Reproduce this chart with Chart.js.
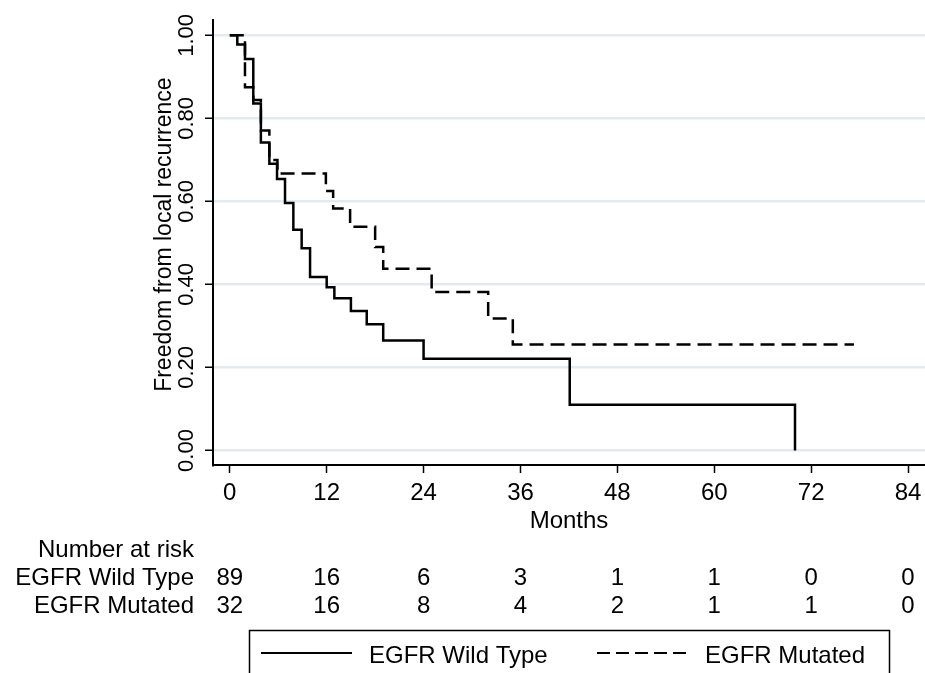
<!DOCTYPE html>
<html>
<head>
<meta charset="utf-8">
<script src="https://cdn.jsdelivr.net/npm/chart.js@4"></script>
<style>
    body { margin: 0; background: #fff; }
    #wrap { width: 925px; height: 673px; }
</style>
</head>
<body>
<div id="wrap"><canvas id="kmChart" width="925" height="673"></canvas></div>
<script>
// tick values for both axes
const months = [0, 12, 24, 36, 48, 60, 72, 84];
const yTicks = [0, 0.2, 0.4, 0.6, 0.8, 1.0];

// Kaplan-Meier steps (time in months, survival after the drop)
const wildTimes = [0, 0.93, 1.88, 2.91, 3.85, 4.9, 5.85, 6.84, 7.87, 8.9, 9.94, 12.0, 12.95, 15.0, 16.96, 19.0, 24.0, 42.1, 70.0, 70.0];
const wildSurv = [1.0, 0.978, 0.943, 0.836, 0.742, 0.691, 0.654, 0.596, 0.532, 0.487, 0.418, 0.393, 0.367, 0.336, 0.304, 0.265, 0.221, 0.110, 0.110, 0.0];

const mutTimes = [0, 1.88, 2.91, 3.85, 4.9, 5.9, 11.9, 12.8, 14.9, 18.0, 19.0, 25.0, 32.0, 35.05, 77.3];
const mutSurv = [1.0, 0.875, 0.844, 0.771, 0.700, 0.667, 0.625, 0.583, 0.539, 0.490, 0.438, 0.382, 0.318, 0.255, 0.255];

// number at risk table
const riskWild = [89, 16, 6, 3, 1, 1, 0, 0];
const riskMut = [32, 16, 8, 4, 2, 1, 1, 0];

const seriesNames = ['EGFR Wild Type', 'EGFR Mutated'];

const FAMILY = '"Liberation Sans", Arial, Helvetica, sans-serif';
const FONT = '24px ' + FAMILY;
const SMALL_FONT = '22px ' + FAMILY;

function toPoints(times, surv) {
    return times.map((t, i) => ({ x: t, y: surv[i] }));
}

// draws the rotated y labels, x labels, risk table and the legend box
const textPlugin = {
    id: 'textPlugin',
    afterDraw(chart) {
        const ctx = chart.ctx;
        const xs = chart.scales.x;
        const ys = chart.scales.y;
        const area = chart.chartArea;
        ctx.save();
        ctx.fillStyle = '#000';

        // y tick labels, rotated
        ctx.font = SMALL_FONT;
        for (let v of yTicks) {
            ctx.save();
            ctx.translate(193, ys.getPixelForValue(v));
            ctx.rotate(-Math.PI / 2);
            ctx.textAlign = 'center';
            ctx.textBaseline = 'alphabetic';
            ctx.fillText(v.toFixed(2), 0, 0);
            ctx.restore();
        }

        // y title
        ctx.font = '23px ' + FAMILY;
        ctx.save();
        ctx.translate(171, ys.getPixelForValue(0.52));
        ctx.rotate(-Math.PI / 2);
        ctx.textAlign = 'center';
        ctx.fillText('Freedom from local recurrence', 0, 0);
        ctx.restore();

        // x tick labels and title
        ctx.font = FONT;
        ctx.textAlign = 'center';
        ctx.textBaseline = 'alphabetic';
        for (let m of months) {
            ctx.fillText(String(m), xs.getPixelForValue(m), 500);
        }
        ctx.fillText('Months', (area.left + area.right) / 2, 528);

        // number at risk
        ctx.textAlign = 'right';
        ctx.fillText('Number at risk', 194, 557);
        ctx.fillText(seriesNames[0], 194, 585);
        ctx.fillText(seriesNames[1], 194, 613);
        ctx.textAlign = 'center';
        months.forEach((m, i) => {
            const px = xs.getPixelForValue(m);
            ctx.fillText(String(riskWild[i]), px, 585);
            ctx.fillText(String(riskMut[i]), px, 613);
        });

        // legend
        ctx.strokeStyle = '#000';
        ctx.lineWidth = 1.5;
        ctx.strokeRect(249.5, 630.5, 640, 70);
        chart.data.datasets.forEach((ds, i) => {
            const x0 = i === 0 ? 261 : 597;
            ctx.beginPath();
            ctx.lineWidth = 2;
            ctx.setLineDash(ds.borderDash ? [13, 6] : []);
            ctx.moveTo(x0, 653);
            ctx.lineTo(x0 + 91, 653);
            ctx.stroke();
            ctx.setLineDash([]);
            ctx.textAlign = 'left';
            ctx.fillText(ds.label, x0 + 108, 663);
        });
        ctx.restore();
    }
};

const ctx = document.getElementById('kmChart').getContext('2d');
const kmChart = new Chart(ctx, {
    type: 'line',
    data: {
        datasets: [
            {
                label: seriesNames[0],
                data: toPoints(wildTimes, wildSurv),
                borderColor: '#000',
                borderWidth: 2.5,
                stepped: 'before',
                pointRadius: 0,
                fill: false
            },
            {
                label: seriesNames[1],
                data: toPoints(mutTimes, mutSurv),
                borderColor: '#000',
                borderWidth: 2.5,
                borderDash: [14, 7],
                stepped: 'before',
                pointRadius: 0,
                fill: false
            }
        ]
    },
    options: {
        responsive: false,
        animation: false,
        devicePixelRatio: 1,
        layout: { padding: { top: 20, left: 0, right: 0, bottom: 0 } },
        plugins: {
            legend: { display: false },
            tooltip: { enabled: false }
        },
        scales: {
            x: {
                type: 'linear',
                min: -2.08,
                max: 86.1,
                afterBuildTicks: (scale) => { scale.ticks = months.map(v => ({ value: v })); },
                afterFit: (scale) => { scale.height = 208; },
                ticks: { display: false },
                grid: {
                    drawOnChartArea: false,
                    drawTicks: true,
                    tickLength: 8,
                    tickColor: '#000',
                    tickWidth: 1.5
                },
                border: { display: true, color: '#000', width: 2 }
            },
            y: {
                type: 'linear',
                min: -0.035,
                max: 1.037,
                afterBuildTicks: (scale) => { scale.ticks = yTicks.map(v => ({ value: v })); },
                afterFit: (scale) => { scale.width = 213; },
                ticks: { display: false },
                grid: {
                    color: '#e3ebef',
                    lineWidth: 2.5,
                    drawTicks: true,
                    tickLength: 8,
                    tickColor: '#000',
                    tickWidth: 1.5
                },
                border: { display: true, color: '#000', width: 2 }
            }
        }
    },
    plugins: [textPlugin]
});
</script>
</body>
</html>
